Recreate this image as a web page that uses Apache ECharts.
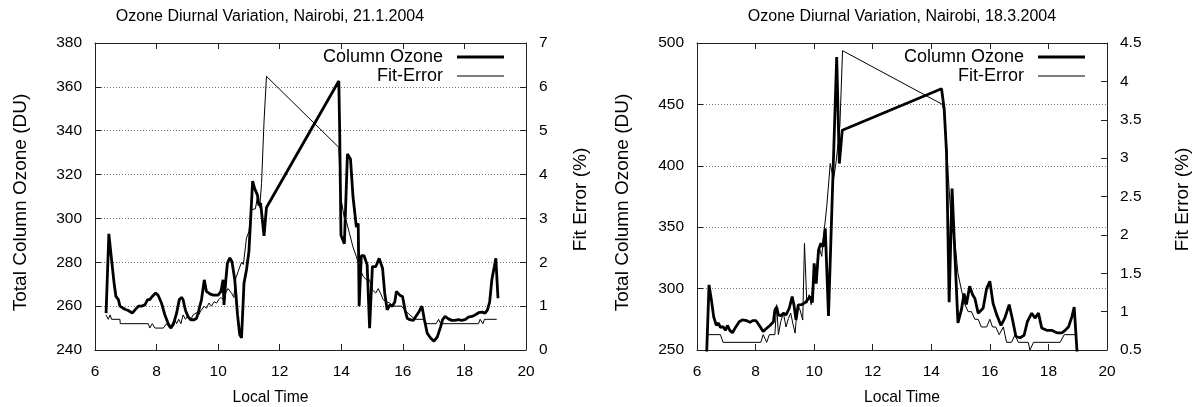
<!DOCTYPE html>
<html>
<head>
<meta charset="utf-8">
<script src="https://cdn.jsdelivr.net/npm/echarts@6/dist/echarts.min.js"></script>
<style>
html,body{margin:0;padding:0;background:#fff;}
#c{width:1198px;height:407px;}
</style>
</head>
<body>
<div id="c"></div>
<script>
// ---- Data: 21.1.2004 ----
const ozoneTimeJan = [6.36,6.45,6.54,6.62,6.68,6.76,6.81,6.86,6.97,7.08,7.21,7.3,7.41,7.51,7.62,7.71,7.78,7.86,7.97,8.05,8.16,8.27,8.38,8.46,8.54,8.65,8.74,8.81,8.86,8.94,9.03,9.11,9.22,9.3,9.37,9.46,9.55,9.62,9.73,9.84,10.0,10.09,10.16,10.19,10.25,10.3,10.38,10.45,10.54,10.63,10.7,10.76,10.84,10.92,11.0,11.06,11.12,11.19,11.28,11.32,11.38,11.49,11.57,13.92,13.95,13.99,14.1,14.2,14.3,14.38,14.49,14.55,14.58,14.65,14.74,14.84,14.92,15.01,15.12,15.23,15.34,15.41,15.49,15.58,15.66,15.74,15.79,15.9,15.99,16.07,16.14,16.23,16.34,16.42,16.53,16.62,16.7,16.79,16.9,17.01,17.12,17.23,17.29,17.37,17.48,17.59,17.7,17.8,17.91,18.02,18.13,18.24,18.35,18.46,18.57,18.67,18.75,18.82,18.89,18.97,19.02,19.09];
const ozoneJan = [256.8,293,281,270.5,264.4,263,260,259.5,258.6,258,256.8,258.3,260,260,260.6,263,263,264.4,266,265,261.4,256,252,250,251.5,256.8,263,264,263,258,255,253.8,253.8,254.5,258,263,272,266.7,265.6,265,265,266.7,272,260.6,272,279.5,282,280.3,272,256,247,245.5,270.5,276.5,285,300.8,317,313.5,310.5,306,307,292,305,362.7,337.7,292.3,288.5,329.4,327,310,296,297.7,260,283,283,278.8,250,278,278,281.8,277.3,266,258.3,260.6,260,262,266.7,265,264.4,258.3,254.5,253.8,253.5,255.3,257.6,260,253.8,247.7,245.5,244,246,250.8,253.8,255.3,254.2,253.5,253.5,253.8,253.5,253.8,255,255.3,256,257,257.3,256.8,258.3,262,272,278,281.8,263.6];
const fitTimeJan = [6.36,6.43,6.49,6.54,6.81,6.82,7.73,7.78,7.86,7.95,8.22,8.32,8.43,8.51,8.59,8.65,8.72,8.79,8.86,8.94,9.03,9.11,9.19,9.3,9.37,9.44,9.55,9.62,9.7,9.78,9.87,9.95,10.02,10.09,10.16,10.24,10.32,10.38,10.44,10.51,10.57,10.65,10.76,10.82,10.92,11.0,11.09,11.14,11.21,11.28,11.35,11.41,11.49,11.57,13.92,13.99,14.1,14.16,14.27,14.38,14.49,14.62,14.71,14.82,14.92,15.01,15.12,15.2,15.27,15.36,15.47,15.58,15.68,15.79,15.96,16.07,16.23,16.39,16.66,16.77,17.08,17.16,17.23,18.46,18.51,18.6,18.65,19.05];
const fitJan = [0.8,0.7,0.8,0.7,0.7,0.6,0.6,0.5,0.6,0.5,0.5,0.6,0.5,0.6,0.7,0.6,0.7,0.6,0.8,0.7,0.8,0.7,0.8,0.85,0.8,0.9,1.0,0.95,1.07,1.0,1.1,1.07,1.15,1.2,1.15,1.3,1.4,1.37,1.29,1.2,1.63,1.79,2.0,1.95,2.55,2.7,3.2,3.22,3.22,3.5,3.25,3.8,5.2,6.24,4.62,3.46,3.0,2.95,2.65,2.35,2.13,1.83,1.68,1.6,1.6,1.37,1.3,1.4,1.3,1.15,1.1,1.07,1.0,1.0,1.0,0.9,0.8,0.7,0.7,0.6,0.6,0.7,0.6,0.6,0.7,0.6,0.7,0.7];

// ---- Data: 18.3.2004 ----
const ozoneTimeMar = [6.32,6.41,6.49,6.57,6.66,6.73,6.8,6.89,6.97,7.04,7.12,7.21,7.33,7.44,7.55,7.69,7.81,7.9,8.01,8.13,8.26,8.38,8.49,8.61,8.66,8.72,8.78,8.86,8.95,9.04,9.15,9.25,9.31,9.38,9.46,9.58,9.69,9.78,9.86,9.94,10.0,10.07,10.15,10.23,10.3,10.38,10.49,10.77,10.86,10.96,14.35,14.44,14.52,14.61,14.71,14.8,14.91,15.03,15.12,15.2,15.31,15.41,15.49,15.6,15.77,15.89,16.0,16.11,16.23,16.38,16.51,16.66,16.78,16.89,17.03,17.17,17.28,17.43,17.54,17.66,17.77,17.94,18.11,18.29,18.46,18.57,18.69,18.8,18.88,18.94,19.0];
const ozoneMar = [240,303,291,277,270,272,268.5,269,266,270,266,264,269,273,274.5,274,272.5,274,274,270,265,267.7,270,273,282.6,285,278.5,278,280,278.5,284,293.5,286.7,274.5,286.7,287,288.6,291,293.5,288.6,320.6,304,331.5,337,334,349,277.7,488.6,401.8,429,462.8,446.6,411,289,381.4,331,272,283,296,287,302,295,292,280,284,300,306,288,279,270,276,287,274,261,260,262,273,280,276,280,268,266,266,264,264,266,269,277,285,284,240];
const fitTimeMar = [6.35,6.8,6.89,8.18,8.26,8.38,8.47,8.66,8.72,8.78,8.86,8.95,9.04,9.12,9.2,9.27,9.35,9.43,9.52,9.61,9.67,9.75,9.83,9.9,9.98,10.09,10.17,10.26,10.32,10.43,10.55,10.66,10.75,10.88,10.97,14.38,14.46,14.58,14.69,14.8,14.91,15.03,15.14,15.26,15.37,15.49,15.6,15.71,15.89,16.0,16.09,16.2,16.32,16.46,16.57,16.74,16.86,16.97,17.31,17.37,17.49,18.4,18.54,18.97];
const fitMar = [0.7,0.7,0.6,0.6,0.7,0.6,0.7,0.7,1.09,0.7,0.87,0.98,0.8,0.91,0.98,0.85,0.72,1.09,1.02,0.89,1.89,1.11,1.22,1.09,1.5,1.41,1.84,1.72,1.97,2.37,2.93,2.72,2.95,3.43,4.4,3.7,3.56,2.77,2.12,1.94,1.5,1.28,1.1,1.0,1.0,0.9,0.9,0.8,0.8,0.9,0.8,0.8,0.7,0.8,0.6,0.6,0.7,0.6,0.6,0.5,0.6,0.6,0.7,0.7];

// ---- Labels ----
const titles = ['Ozone Diurnal Variation, Nairobi, 21.1.2004', 'Ozone Diurnal Variation, Nairobi, 18.3.2004'];
const xName = 'Local Time';
const yLeftName = 'Total Column Ozone (DU)';
const yRightName = 'Fit Error (%)';
const seriesNames = ['Column Ozone', 'Fit-Error'];

const zip = (xs, ys) => xs.map((x, i) => [x, ys[i]]);

const FONT = '"Liberation Sans", Arial, Helvetica, sans-serif';
const FS = 15.5;
const axisCol = '#222';

function xAxes(grid, padShift) {
  return [
    {
      gridIndex: grid, type: 'value', min: 6, max: 20, interval: 2, position: 'bottom',
      axisLine: { show: true, onZero: false, lineStyle: { color: axisCol, width: 1 } },
      axisTick: { show: true, inside: true, length: 6, lineStyle: { color: axisCol } },
      axisLabel: { color: '#000', fontSize: FS, fontFamily: FONT, margin: 14 },
      splitLine: { show: false },
      name: xName, nameLocation: 'middle', nameGap: 40,
      nameTextStyle: { color: '#000', fontSize: 15.7, fontFamily: FONT, padding: padShift }
    },
    {
      gridIndex: grid, type: 'value', min: 6, max: 20, interval: 2, position: 'top',
      axisLine: { show: true, onZero: false, lineStyle: { color: axisCol, width: 1 } },
      axisTick: { show: true, inside: true, length: 6, lineStyle: { color: axisCol } },
      axisLabel: { show: false },
      splitLine: { show: false }
    }
  ];
}

function yAxes(grid, lmin, lmax, lint, rmin, rmax, rint, lGap, rGap, lPad, rPad) {
  return [
    {
      gridIndex: grid, type: 'value', min: lmin, max: lmax, interval: lint, position: 'left',
      axisLine: { show: true, onZero: false, lineStyle: { color: axisCol, width: 1 } },
      axisTick: { show: true, inside: true, length: 6, lineStyle: { color: axisCol } },
      axisLabel: { color: '#000', fontSize: FS, fontFamily: FONT, margin: 13 },
      splitLine: { show: true, lineStyle: { color: '#777', type: [1, 2], width: 1 } },
      name: yLeftName, nameLocation: 'middle', nameGap: lGap, nameRotate: 90,
      nameTextStyle: { color: '#000', fontSize: 19, fontFamily: FONT, padding: lPad }
    },
    {
      gridIndex: grid, type: 'value', min: rmin, max: rmax, interval: rint, position: 'right',
      axisLine: { show: true, onZero: false, lineStyle: { color: axisCol, width: 1 } },
      axisTick: { show: true, inside: true, length: 6, lineStyle: { color: axisCol } },
      axisLabel: { color: '#000', fontSize: FS, fontFamily: FONT, margin: 13 },
      splitLine: { show: false },
      name: yRightName, nameLocation: 'middle', nameGap: rGap, nameRotate: 90,
      nameTextStyle: { color: '#000', fontSize: 19, fontFamily: FONT, padding: rPad }
    }
  ];
}

function legendItem(name, right, top, h) {
  return {
    right: right, top: top, orient: 'vertical', align: 'right',
    itemWidth: 47, itemHeight: h, padding: 0, icon: 'rect',
    data: [name], selectedMode: false,
    itemStyle: { color: '#000' },
    textStyle: { color: '#000', fontSize: 18, fontFamily: FONT, padding: [0, 9, 0, 0] }
  };
}

const lineSeries = (name, xi, yi, data, w) => ({
  type: 'line', name: name, xAxisIndex: xi, yAxisIndex: yi, data: data,
  symbol: 'none', showSymbol: false, clip: true, silent: true,
  lineStyle: { color: '#000', width: w }, itemStyle: { color: '#000' }
});

const chart = echarts.init(document.getElementById('c'), null, { renderer: 'canvas' });
chart.setOption({
  animation: false,
  backgroundColor: '#fff',
  textStyle: { fontFamily: FONT },
  title: [
    { text: titles[0], left: 270, top: 9, textAlign: 'center', padding: 0,
      textStyle: { color: '#000', fontSize: 16, fontWeight: 'normal', fontFamily: FONT } },
    { text: titles[1], left: 902, top: 9, textAlign: 'center', padding: 0,
      textStyle: { color: '#000', fontSize: 16, fontWeight: 'normal', fontFamily: FONT } }
  ],
  legend: [
    legendItem(seriesNames[0], 694, 48, 3),
    legendItem(seriesNames[1], 694, 67, 1.2),
    legendItem(seriesNames[0], 113, 48, 3),
    legendItem(seriesNames[1], 113, 67, 1.2)
  ],
  grid: [
    { left: 95, top: 43, width: 431, height: 307, containLabel: false, outerBoundsMode: 'none' },
    { left: 697, top: 43, width: 410, height: 307, containLabel: false, outerBoundsMode: 'none' }
  ],
  xAxis: [...xAxes(0, [0, 80, 0, 0]), ...xAxes(1, [0, 0, 0, 0])],
  yAxis: [
    ...yAxes(0, 240, 380, 20, 0, 7, 1, 65, 45, [0, 12, 0, 0], [0, 6, 0, 0]),
    ...yAxes(1, 250, 500, 50, 0.5, 4.5, 0.5, 65, 66, [0, 12, 0, 0], [0, 6, 0, 0])
  ],
  series: [
    lineSeries(seriesNames[0], 0, 0, zip(ozoneTimeJan, ozoneJan), 2.8),
    lineSeries(seriesNames[1], 0, 1, zip(fitTimeJan, fitJan), 1),
    lineSeries(seriesNames[0], 2, 2, zip(ozoneTimeMar, ozoneMar), 2.8),
    lineSeries(seriesNames[1], 2, 3, zip(fitTimeMar, fitMar), 1)
  ]
});
</script>
</body>
</html>
